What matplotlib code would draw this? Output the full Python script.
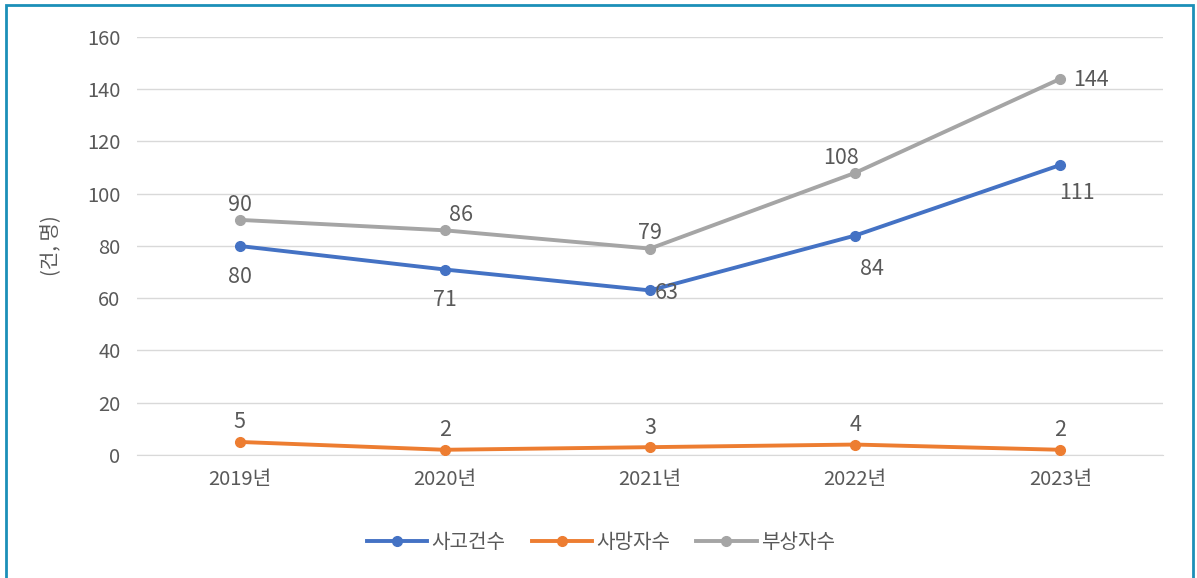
import matplotlib
matplotlib.use("Agg")
import matplotlib.pyplot as plt
from matplotlib.patches import Rectangle

plt.rcParams['font.family'] = ['Noto Sans CJK KR', 'DejaVu Sans']

years = ['2019년', '2020년', '2021년', '2022년', '2023년']
accidents = [80, 71, 63, 84, 111]
deaths = [5, 2, 3, 4, 2]
injuries = [90, 86, 79, 108, 144]
series_names = ['사고건수', '사망자수', '부상자수']
colors = ['#4472C4', '#ED7D31', '#A5A5A5']
yticks = [0, 20, 40, 60, 80, 100, 120, 140, 160]

txt = '#595959'
fig = plt.figure(figsize=(11.97, 5.78), dpi=100)
ax = fig.add_axes([0.1145, 0.2128, 0.857, 0.7232])

x = list(range(len(years)))
for vals, c, name in zip([accidents, deaths, injuries], colors, series_names):
    ax.plot(x, vals, color=c, lw=2.8, marker='o', ms=7, label=name, zorder=3)

# data labels
acc_off = [(0, -22), (0, -22), (12, -2), (12, -24), (12, -20)]
inj_off = [(0, 11), (12, 11), (0, 11), (-10, 11), (22, -1)]
for i, v in enumerate(accidents):
    dx, dy = acc_off[i]
    ax.annotate(str(v), (i, v), xytext=(dx, dy), textcoords='offset points',
                ha='center', va='center', fontsize=15.5, color=txt, zorder=4)
for i, v in enumerate(injuries):
    dx, dy = inj_off[i]
    ax.annotate(str(v), (i, v), xytext=(dx, dy), textcoords='offset points',
                ha='center', va='center', fontsize=15.5, color=txt, zorder=4)
for i, v in enumerate(deaths):
    ax.annotate(str(v), (i, v), xytext=(0, 14), textcoords='offset points',
                ha='center', va='center', fontsize=15.5, color=txt, zorder=4)

ax.set_xlim(-0.5, len(years) - 0.5)
ax.set_ylim(0, 160)
ax.set_yticks(yticks)
ax.set_xticks(x)
ax.set_xticklabels(years)
ax.tick_params(axis='both', length=0, labelsize=14.5, colors=txt)
ax.tick_params(axis='y', pad=12)
ax.tick_params(axis='x', pad=10)
ax.grid(axis='y', color='#D9D9D9', lw=1)
ax.set_axisbelow(True)
for s in ['top', 'right', 'left']:
    ax.spines[s].set_visible(False)
ax.spines['bottom'].set_color('#D9D9D9')
ax.set_ylabel('(건, 명)', fontsize=14.5, color=txt, labelpad=18)

ax.legend(loc='upper center', bbox_to_anchor=(0.452, -0.14), ncol=3, frameon=False,
          fontsize=14.5, labelcolor=txt, handlelength=3.0, columnspacing=1.3,
          handletextpad=0.2)

fig.patches.append(Rectangle((6/1197, -0.05), (1193-6)/1197, 1 - 5/578 + 0.05,
                             transform=fig.transFigure, fill=False,
                             edgecolor='#1B8FB8', lw=2))

fig.savefig('out.png', dpi=100)
